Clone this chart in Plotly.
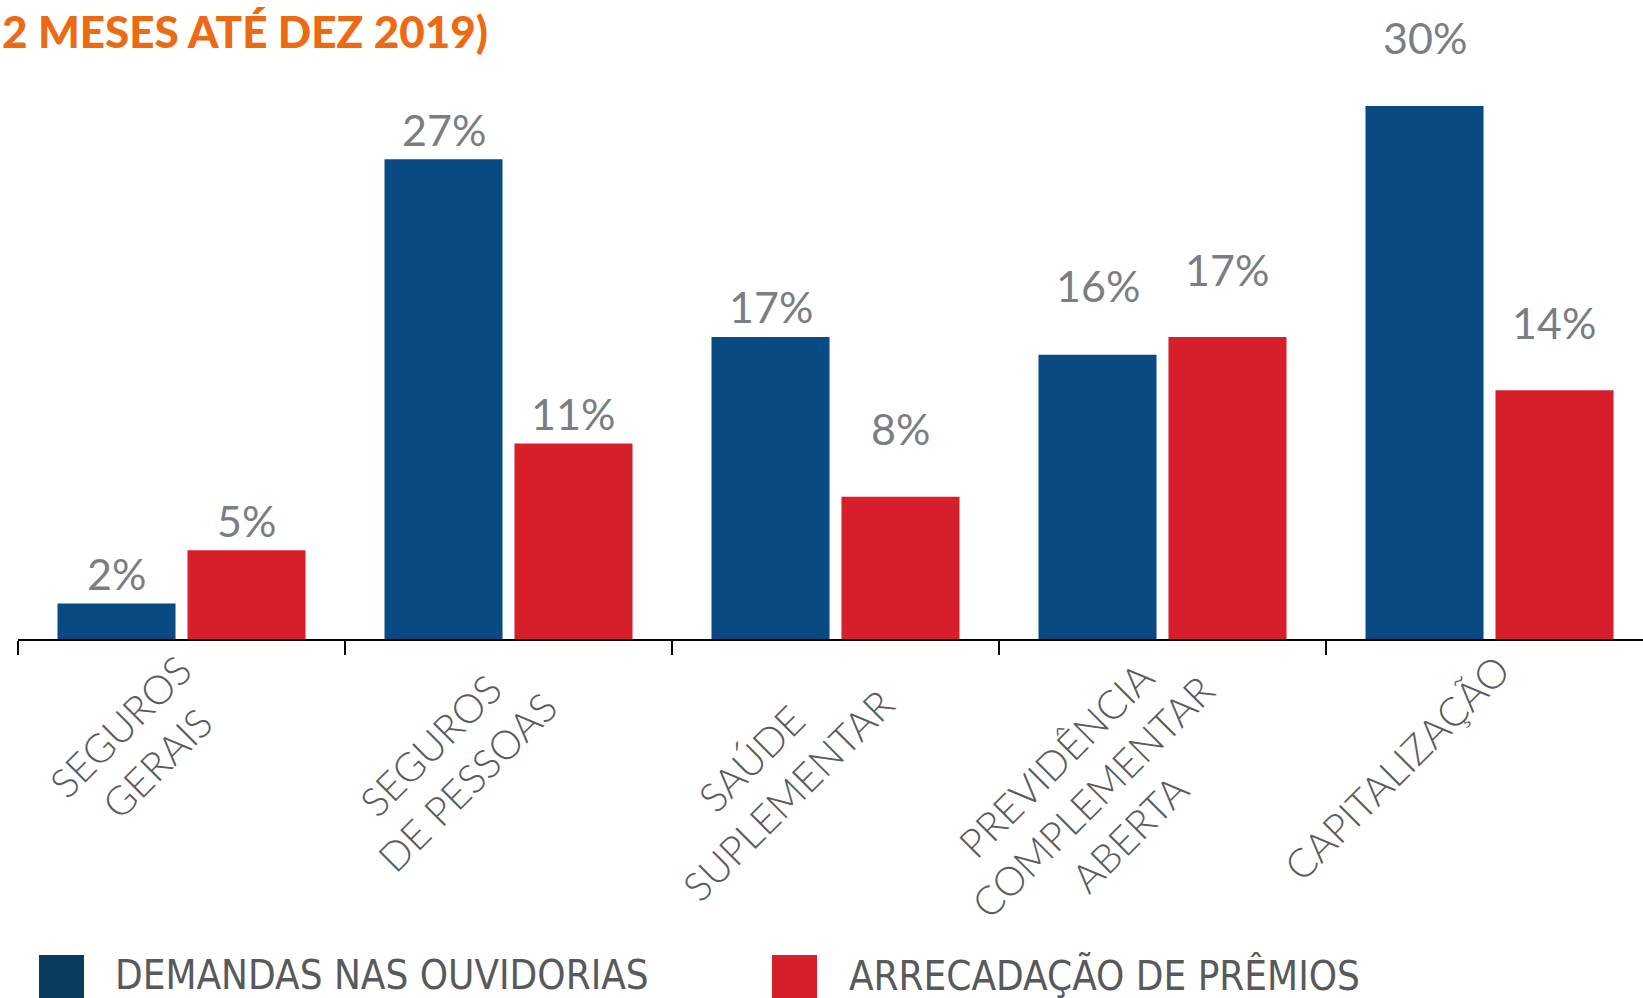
import plotly.graph_objects as go

# ---- data ----
categories = ["SEGUROS<br>GERAIS", "SEGUROS<br>DE PESSOAS", "SAÚDE<br>SUPLEMENTAR",
              "PREVIDÊNCIA<br>COMPLEMENTAR<br>ABERTA", "CAPITALIZAÇÃO"]
demandas = [2, 27, 17, 16, 30]
arrecadacao = [5, 11, 8, 17, 14]
series_names = ["DEMANDAS NAS OUVIDORIAS", "ARRECADAÇÃO DE PRÊMIOS"]
title_text = "2 MESES ATÉ DEZ 2019)"

# ---- layout / style (pixels) ----
W, H = 1643, 998
ML, MR, MT, MB = 18, 0, 0, 359
PX_PER_UNIT = 17.77
CAT_PX = 327.0
BARGAP = 0.205
GROUPGAP = 0.092
BLUE = "#094a83"
RED = "#d71f2b"
LEG_BLUE = "#0b3a5f"
VAL_GREY = "#7a7e83"
LAB_GREY = "#5a5b5d"
ORANGE = "#ec6a12"
# vertical lift (px) of the value label centre above each bar top
lift_demandas = [30, 30, 30, 69, 68]
lift_arrecadacao = [30, 30, 68, 67, 68]
# category label centre offsets (px) relative to category centre / baseline
lab_dx = [-43, -60, -66, -70, -93]
lab_dy = [-106, -125, -138, -158, -129]

plot_w = W - ML - MR
plot_h = H - MT - MB
x_idx = list(range(len(categories)))

fig = go.Figure()
fig.add_trace(go.Bar(x=x_idx, y=demandas, name=series_names[0], marker_color=BLUE,
                     marker_line_width=0, showlegend=False, hoverinfo="skip"))
fig.add_trace(go.Bar(x=x_idx, y=arrecadacao, name=series_names[1], marker_color=RED,
                     marker_line_width=0, showlegend=False, hoverinfo="skip"))

half = (1 - BARGAP) / 4.0
ann = []
for i, (v, l) in enumerate(zip(demandas, lift_demandas)):
    ann.append(dict(x=i - half, y=v, xref="x", yref="y", text=f"{v}%", showarrow=False,
                    xanchor="center", yanchor="middle", yshift=l,
                    font=dict(family="Lato", size=43, color=VAL_GREY)))
for i, (v, l) in enumerate(zip(arrecadacao, lift_arrecadacao)):
    ann.append(dict(x=i + half, y=v, xref="x", yref="y", text=f"{v}%", showarrow=False,
                    xanchor="center", yanchor="middle", yshift=l,
                    font=dict(family="Lato", size=43, color=VAL_GREY)))
for i, c in enumerate(categories):
    ann.append(dict(x=i, y=0, xref="x", yref="y", text=c, showarrow=False,
                    xanchor="center", yanchor="middle", xshift=lab_dx[i], yshift=lab_dy[i],
                    textangle=-45, align="center",
                    font=dict(family="Lato", size=40, color=LAB_GREY, weight=300)))


def px_x(px):
    return (px - ML) / plot_w


def px_y(py):
    return (H - MB - py) / plot_h


# title (cropped chart title, orange)
ann.append(dict(x=px_x(0), y=px_y(31), xref="paper", yref="paper", text=title_text,
                showarrow=False, xanchor="left", yanchor="middle",
                font=dict(family="Lato", size=44, color=ORANGE, weight=900)))

# custom legend
shapes = []
leg = [(39, 84, LEG_BLUE, 113, series_names[0]), (772, 817, RED, 847, series_names[1])]
for x0, x1, col, tx, name in leg:
    shapes.append(dict(type="rect", xref="paper", yref="paper", x0=px_x(x0), x1=px_x(x1),
                       y0=px_y(1010), y1=px_y(955), fillcolor=col, line_width=0, layer="above"))
    ann.append(dict(x=px_x(tx), y=px_y(975), xref="paper", yref="paper", text=name,
                    showarrow=False, xanchor="left", yanchor="middle",
                    font=dict(family="Liberation Sans Narrow, DejaVu Sans Condensed", size=40,
                              color="#58595b")))

fig.update_layout(
    width=W, height=H,
    margin=dict(l=ML, r=MR, t=MT, b=MB, pad=0),
    paper_bgcolor="white", plot_bgcolor="white",
    barmode="group", bargap=BARGAP, bargroupgap=GROUPGAP,
    xaxis=dict(range=[-0.5, -0.5 + plot_w / CAT_PX], tickmode="array",
               tickvals=[i - 0.5 for i in x_idx],
               ticktext=[""] * len(x_idx), ticks="outside",
               ticklen=14, tickwidth=2, tickcolor="black", showline=True, linecolor="black",
               linewidth=2, showgrid=False, zeroline=False, fixedrange=True),
    yaxis=dict(range=[0, plot_h / PX_PER_UNIT], visible=False, showgrid=False,
               zeroline=False, fixedrange=True),
    annotations=ann, shapes=shapes, showlegend=False,
)

fig.write_html("out.html", config={"displayModeBar": False},
               post_script="document.body.style.margin='0';document.body.style.overflow='hidden';")
